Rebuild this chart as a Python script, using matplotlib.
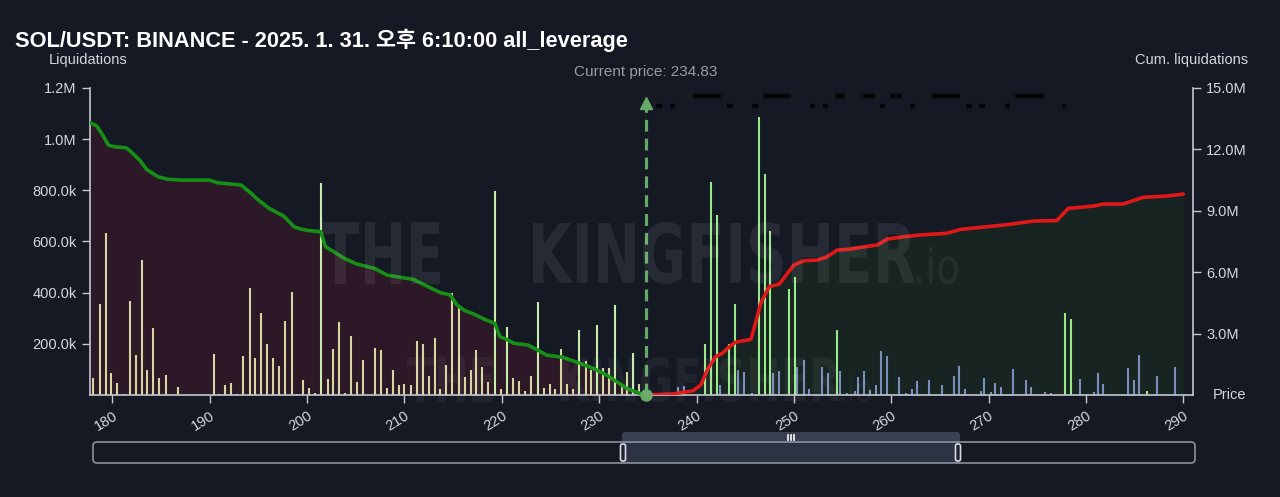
import numpy as np
import matplotlib.pyplot as plt
from matplotlib.patches import FancyBboxPatch, PathPatch
from matplotlib.textpath import TextPath
from matplotlib.font_manager import FontProperties
from matplotlib.transforms import Affine2D, blended_transform_factory
from matplotlib.ticker import FuncFormatter

plt.rcParams['font.family'] = ['Liberation Sans', 'Noto Sans CJK KR', 'DejaVu Sans']

title = 'SOL/USDT: BINANCE - 2025. 1. 31. 오후 6:10:00 all_leverage'
current_price = 234.83

# liquidation bars below the current price
long_prices = [178.05, 178.7, 179.3, 179.9, 180.5, 181.2, 181.8, 182.4, 183.0, 183.6,
               184.2, 184.8, 185.5, 186.7, 190.4, 191.0, 191.6, 192.2, 192.8, 193.4,
               194.1, 194.7, 195.3, 195.9, 196.5, 197.1, 197.7, 198.4, 199.0, 199.6,
               200.2, 200.8, 201.45, 202.1, 202.7, 203.3, 203.9, 204.5, 205.1, 205.7,
               207.0, 207.6, 208.2, 208.8, 209.4, 210.0, 210.7, 211.3, 211.9, 212.5,
               213.1, 213.7, 214.3, 214.9, 215.6, 216.2, 216.8, 217.4, 218.0, 218.6,
               219.3, 219.9, 220.5, 221.2, 221.8, 222.4, 223.0, 223.7, 224.3, 224.9,
               225.5, 226.1, 226.7, 227.3, 227.9, 228.6, 229.2, 229.8, 230.4, 231.0,
               231.6, 232.3, 232.9, 233.5, 234.1]
long_vals = [68e3, 354e3, 635e3, 87e3, 48e3, 5e3, 368e3, 155e3, 528e3, 99e3,
             260e3, 68e3, 77e3, 30e3, 160e3, 5e3, 40e3, 48e3, 5e3, 152e3,
             417e3, 143e3, 321e3, 199e3, 145e3, 114e3, 290e3, 404e3, 5e3, 59e3,
             26e3, 8e3, 829e3, 61e3, 181e3, 285e3, 8e3, 229e3, 51e3, 135e3,
             185e3, 175e3, 29e3, 96e3, 38e3, 42e3, 38e3, 211e3, 200e3, 74e3,
             224e3, 22e3, 117e3, 400e3, 339e3, 71e3, 98e3, 176e3, 108e3, 52e3,
             797e3, 22e3, 266e3, 65e3, 56e3, 15e3, 74e3, 362e3, 26e3, 44e3,
             22e3, 178e3, 43e3, 22e3, 255e3, 132e3, 98e3, 272e3, 104e3, 104e3,
             352e3, 43e3, 91e3, 163e3, 43e3]
long_bright = [201.45, 219.3, 220.5, 223.7, 227.9, 229.8, 231.6, 233.5]

# liquidation bars above the current price
short_green_prices = [240.9, 241.5, 242.1, 243.35, 244.0, 246.4, 247.0, 247.6, 249.5, 250.15,
                      254.4, 277.85, 278.5, 286.3]
short_green_vals = [198e3, 832e3, 705e3, 200e3, 357e3, 1088e3, 862e3, 642e3, 416e3, 461e3,
                    255e3, 321e3, 298e3, 17e3]
short_blue_prices = [238.1, 238.7, 242.4, 244.25, 244.9, 245.7, 247.9, 248.5, 250.35, 251.0,
                     251.6, 252.9, 253.5, 254.75, 255.5, 256.3, 256.6, 257.2, 257.8, 258.4,
                     259.0, 259.6, 260.85, 261.5, 262.1, 262.7, 263.9, 265.2, 266.4, 267.0,
                     267.6, 269.2, 269.5, 270.3, 270.7, 271.3, 272.55, 273.8, 274.4, 275.8,
                     276.4, 279.35, 280.8, 281.2, 281.8, 284.3, 284.9, 285.5, 287.3, 289.2]
short_blue_vals = [33e3, 36e3, 41e3, 96e3, 88e3, 8e3, 85e3, 94e3, 108e3, 137e3,
                   25e3, 108e3, 85e3, 94e3, 8e3, 16e3, 71e3, 95e3, 20e3, 40e3,
                   172e3, 154e3, 69e3, 8e3, 25e3, 56e3, 59e3, 38e3, 74e3, 114e3,
                   22e3, 15e3, 67e3, 10e3, 47e3, 31e3, 100e3, 60e3, 31e3, 12e3,
                   8e3, 64e3, 12e3, 86e3, 44e3, 104e3, 59e3, 155e3, 74e3, 110e3]

# cumulative liquidations (millions)
cum_long_prices = [177.75, 178.4, 179.0, 179.6, 180.2, 181.4, 181.9, 182.8, 183.5, 184.7,
                   185.7, 187.05, 189.96, 190.8, 193.2, 194.2, 194.9, 196.1, 197.6, 198.66,
                   199.4, 200.2, 201.4, 201.9, 202.75, 203.8, 205.1, 206.9, 208.2, 209.6,
                   210.9, 212.3, 213.7, 214.7, 215.4, 216.1, 217.1, 218.4, 219.3, 219.8,
                   220.5, 221.2, 222.7, 223.55, 224.6, 226.3, 228.0, 229.4, 230.75, 231.8,
                   232.8, 234.15, 234.83]
cum_long_vals = [13.30, 13.14, 12.70, 12.21, 12.13, 12.08, 11.89, 11.48, 11.03, 10.66,
                 10.54, 10.50, 10.50, 10.37, 10.26, 9.88, 9.56, 9.12, 8.74, 8.22,
                 8.10, 8.03, 7.98, 7.24, 7.00, 6.68, 6.40, 6.19, 5.86, 5.75,
                 5.65, 5.32, 5.00, 4.89, 4.40, 4.15, 3.96, 3.66, 3.50, 2.85,
                 2.72, 2.53, 2.44, 2.23, 1.95, 1.84, 1.55, 1.30, 0.98, 0.65,
                 0.33, 0.08, 0.0]
cum_short_prices = [234.83, 237.55, 239.6, 240.45, 241.1, 241.95, 242.65, 243.3, 244.0, 245.6,
                    246.6, 247.45, 248.5, 250.0, 251.05, 252.4, 253.45, 254.45, 255.8, 257.2,
                    258.6, 259.6, 261.3, 263.0, 265.7, 267.1, 269.8, 272.2, 274.6, 277.0,
                    278.2, 280.8, 281.8, 283.8, 285.9, 288.3, 290.0]
cum_short_vals = [0.0, 0.05, 0.2, 0.49, 1.22, 1.87, 2.04, 2.33, 2.58, 2.72,
                  4.48, 5.29, 5.42, 6.35, 6.56, 6.59, 6.76, 7.08, 7.13, 7.24,
                  7.33, 7.62, 7.73, 7.82, 7.90, 8.09, 8.22, 8.34, 8.50, 8.52,
                  9.12, 9.23, 9.33, 9.33, 9.66, 9.72, 9.82]

# dark markers along the top
top_row1 = [(239.6, 242.5), (246.8, 249.7), (254.2, 255.3), (257.1, 258.3), (259.9, 261.1),
            (264.2, 267.1), (272.7, 275.7)]
top_row2 = [(235.8, 236.5), (237.3, 237.8), (243.1, 243.7), (245.75, 246.3), (251.7, 252.2),
            (253.0, 253.5), (258.9, 259.4), (261.9, 262.4), (267.7, 268.3), (269.0, 269.6),
            (271.65, 272.2), (277.5, 278.0)]

x_ticks = [180, 190, 200, 210, 220, 230, 240, 250, 260, 270, 280, 290]
left_ticks = [200e3, 400e3, 600e3, 800e3, 1.0e6, 1.2e6]
right_ticks = [3, 6, 9, 12, 15]

bg = '#151924'
axis_col = '#c4c7ce'
text_col = '#d4d6dc'

W, H = 1280, 497
fig = plt.figure(figsize=(W / 100, H / 100), dpi=100, facecolor=bg)
ax = fig.add_axes([90 / W, 1 - 395 / H, 1103 / W, 307 / H])
ax2 = ax.twinx()
ax.set_zorder(3)
ax.patch.set_visible(False)
ax2.set_facecolor(bg)

# cumulative areas
ax2.fill_between(cum_long_prices, cum_long_vals, 0, color='#2c1826', lw=0)
ax2.fill_between(cum_short_prices, cum_short_vals, 0, color='#172421', lw=0)

# bars, drawn as thin vertical strokes of constant pixel width
bar_lw = 1.5
long_cols = ['#c9ebac' if p in long_bright else '#d6d6a2' for p in long_prices]
ax.vlines(long_prices, 0, long_vals, colors=long_cols, lw=bar_lw, zorder=2)
ax.vlines(short_blue_prices, 0, short_blue_vals, colors='#7a8fbd', lw=bar_lw, zorder=2)
ax.vlines(short_green_prices, 0, short_green_vals, colors='#9be88a', lw=bar_lw, zorder=2)

# cumulative lines on top of the bars
ax.plot(cum_long_prices, cum_long_vals, color='#168f16', lw=2.6, zorder=4,
        transform=ax2.transData, solid_capstyle='round')
ax.plot(cum_short_prices, cum_short_vals, color='#e01818', lw=2.6, zorder=4,
        transform=ax2.transData, solid_capstyle='round')

# top markers
for x0, x1 in top_row1:
    ax.hlines(1.168e6, x0, x1, color='#050608', lw=3.2, zorder=3)
for x0, x1 in top_row2:
    ax.hlines(1.129e6, x0, x1, color='#050608', lw=3.2, zorder=3)

# current price marker
ax.plot([current_price, current_price], [0, 1.12e6], color='#66a866', lw=2.3,
        dashes=(3.7, 2.2), zorder=5)
ax.plot([current_price], [1.14e6], marker='^', ms=8, color='#66a866', zorder=5)
ax.plot([current_price], [0], marker='o', ms=8, color='#66a866', zorder=6, clip_on=False)
ax.text(current_price, 1.0 + 16 / 307, f'Current price: {current_price}', color='#9a9ca3',
        fontsize=11, ha='center', va='center',
        transform=blended_transform_factory(ax.transData, ax.transAxes))

# axes styling
ax.set_xlim(177.7, 291.0)
ax.set_ylim(0, 1.2e6)
ax2.set_ylim(0, 15)
ax.set_xticks(x_ticks)
ax.set_yticks(left_ticks)
ax2.set_yticks(right_ticks)
ax.yaxis.set_major_formatter(FuncFormatter(
    lambda v, p: f'{v / 1e6:.1f}M' if v >= 1e6 else f'{v / 1e3:.1f}k'))
ax2.yaxis.set_major_formatter(FuncFormatter(lambda v, p: f'{v:.1f}M'))
for s in ['top', 'right']:
    ax.spines[s].set_visible(False)
for s in ['top', 'left', 'bottom']:
    ax2.spines[s].set_visible(False)
for sp in [ax.spines['left'], ax.spines['bottom'], ax2.spines['right']]:
    sp.set_color(axis_col)
    sp.set_linewidth(1.2)
ax.tick_params(axis='both', colors=axis_col, labelcolor=text_col, labelsize=10.5,
               length=6, width=1)
ax2.tick_params(axis='y', colors=axis_col, labelcolor=text_col, labelsize=10.5,
                length=6, width=1)
plt.setp(ax.get_xticklabels(), rotation=32, ha='right', rotation_mode='anchor')

# overlay in pixel units for chrome and watermark
ov = fig.add_axes([0, 0, 1, 1], zorder=10)
ov.set_xlim(0, W)
ov.set_ylim(H, 0)
ov.axis('off')
ov.patch.set_visible(False)


def watermark(s, x0, y0, x1, y1, alpha, weight='bold'):
    tp = TextPath((0, 0), s, size=1, prop=FontProperties(family='DejaVu Sans', weight=weight))
    bb = tp.get_extents()
    tr = (Affine2D().translate(-bb.x0, -bb.y0)
          .scale((x1 - x0) / bb.width, -(y1 - y0) / bb.height).translate(x0, y1))
    ov.add_patch(PathPatch(tr.transform_path(tp), fc='white', ec='none', alpha=alpha))


watermark('THE', 322, 222, 440, 284, 0.075)
watermark('KINGFISHER', 533, 222, 915, 284, 0.075)
watermark('.io', 917, 247, 958, 284, 0.06, weight='normal')
watermark('THE', 407, 357, 493, 402, 0.05)
watermark('KINGFISHER', 561, 357, 840, 402, 0.05)
watermark('.io', 841, 375, 871, 402, 0.045, weight='normal')

ov.text(15, 40, title, color='white', fontsize=15.7, fontweight='bold', va='center', ha='left')
ov.text(88, 60, 'Liquidations', color=text_col, fontsize=10.5, ha='center', va='center')
ov.text(1248, 60, 'Cum. liquidations', color=text_col, fontsize=10.5, ha='right', va='center')
ov.text(1230, 395, 'Price', color=text_col, fontsize=10.5, ha='center', va='center')

# range slider
ov.add_patch(FancyBboxPatch((623, 442), 335, 21, boxstyle='square,pad=0', fc='#2c3344', ec='none'))
ov.add_patch(FancyBboxPatch((622, 432), 338, 11, boxstyle='round,pad=0,rounding_size=3',
                            fc='#3a4052', ec='none'))
ov.add_patch(FancyBboxPatch((93, 442), 1102, 21, boxstyle='round,pad=0,rounding_size=4',
                            fc='none', ec='#8d919c', lw=1.2))
for gx in [788, 791, 794]:
    ov.plot([gx, gx], [435, 439.5], color='white', lw=1.2)
for hx in [623, 958]:
    ov.add_patch(FancyBboxPatch((hx - 2.5, 444), 5, 17, boxstyle='round,pad=0,rounding_size=2',
                                fc='#1d2230', ec='#d8dbe2', lw=1.2))

fig.savefig('out.png', dpi=100, facecolor=bg)
